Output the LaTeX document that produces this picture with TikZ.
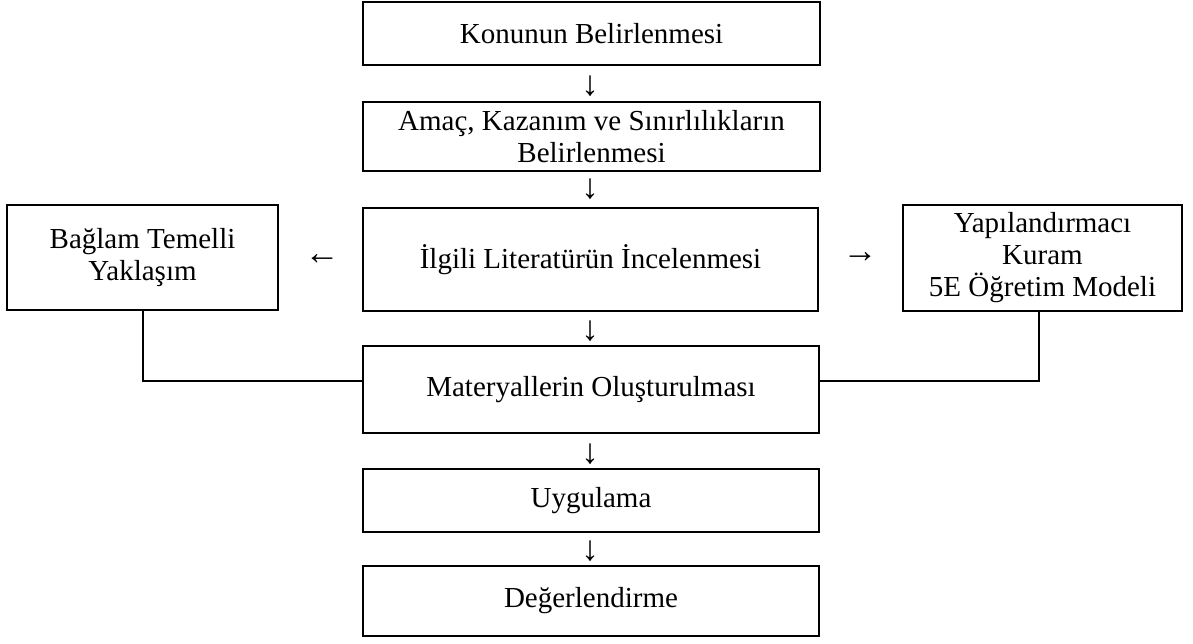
\documentclass[tikz,border=0pt]{standalone}
\usepackage{fontspec}
\setmainfont{Liberation Serif}
\begin{document}
\begin{tikzpicture}[x=1pt,y=-1pt,
  box/.style={draw,line width=1.4pt,inner sep=0pt,align=center,
    font=\fontsize{29}{32}\selectfont},
  glyph/.style={inner sep=0pt,font=\fontsize{35}{38}\selectfont},
  link/.style={line width=1.4pt}]
\useasboundingbox (0,0) rectangle (1193,644);
\node[box,minimum width=457pt,minimum height=63pt] (b1) at (591.5,33.5) {Konunun Belirlenmesi};
\node[box,minimum width=457pt,minimum height=69pt] (b2) at (591.5,136.5) {Amaç, Kazanım ve Sınırlılıkların\\Belirlenmesi};
\node[box,minimum width=455pt,minimum height=103pt] (b3) at (590.5,259.5) {İlgili Literatürün İncelenmesi};
\node[box,minimum width=271pt,minimum height=105pt] (bl) at (142.5,257.5) {Bağlam Temelli\\Yaklaşım};
\node[box,minimum width=279pt,minimum height=106pt] (br) at (1042.5,258) {Yapılandırmacı\\Kuram\\5E Öğretim Modeli};
\node[box,minimum width=456pt,minimum height=87pt] (b6) at (591,389.5) {Materyallerin Oluşturulması};
\node[box,minimum width=456pt,minimum height=63pt] (b7) at (591,500.5) {Uygulama};
\node[box,minimum width=456pt,minimum height=70pt] (b8) at (591,601) {Değerlendirme};
\node[glyph] (a1) at (590,86) {↓};
\node[glyph] (a2) at (590,189) {↓};
\node[glyph] (a3) at (590,331) {↓};
\node[glyph] (a4) at (590,454) {↓};
\node[glyph] (a5) at (590,551) {↓};
\node[glyph] (al) at (322,260) {←};
\node[glyph] (ar) at (860,258) {→};
\coordinate (jl) at (143,381);
\coordinate (jr) at (1039,381);
\draw[link] (bl.south -| jl) -- (jl) -- (jl -| b6.west);
\draw[link] (jr -| b6.east) -- (jr) -- (jr |- br.south);
\end{tikzpicture}
\end{document}
